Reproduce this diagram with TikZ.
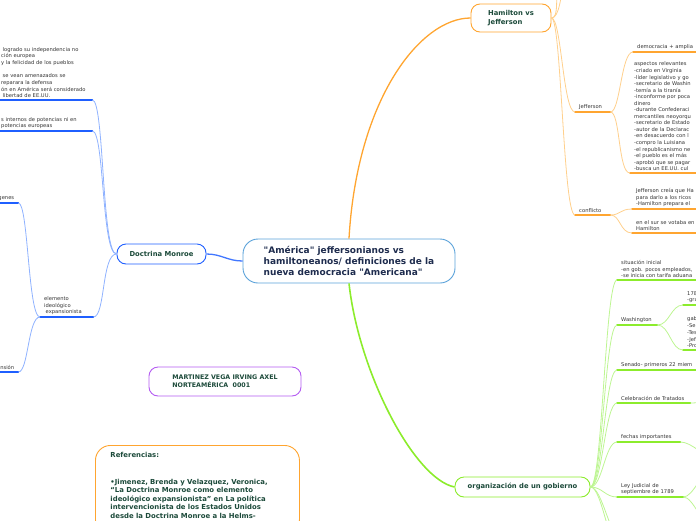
\documentclass[tikz,border=0pt]{standalone}
\usepackage{fontspec}
\setmainfont{DejaVu Sans}[Ligatures=TeXOff]
\usepackage{tikz}
\usetikzlibrary{positioning}
\hyphenpenalty=10000
\exhyphenpenalty=10000
\definecolor{mmblue}{HTML}{1F5FFF}
\definecolor{mmbluel}{HTML}{8FB2FF}
\definecolor{mmorange}{HTML}{FFA530}
\definecolor{mmorangel}{HTML}{FFD08C}
\definecolor{mmgreen}{HTML}{8CEC2C}
\definecolor{mmgreenl}{HTML}{BDF592}
\definecolor{mmpurple}{HTML}{B45CF2}
\definecolor{mmcentre}{HTML}{5AA2DA}
\definecolor{mmtext}{HTML}{1C4A3A}
\definecolor{mmnavy}{HTML}{1E2C4E}
\tikzset{
  topic/.style={draw,line width=0.9pt,fill=white,rounded corners=9pt,
    align=left,inner sep=0pt,text=mmtext,
    font=\bfseries\fontsize{6.8}{9}\selectfont},
  centretopic/.style={topic,draw=mmcentre,rounded corners=15pt,text=mmnavy,
    font=\bfseries\fontsize{9}{11}\selectfont},
  refbox/.style={draw=mmorange,line width=0.9pt,rounded corners=15pt,
    anchor=north west,align=left,inner xsep=15pt,inner ysep=7pt,
    text depth=70pt,text=mmtext,font=\bfseries\fontsize{6.9}{8.4}\selectfont},
  leaf/.style={anchor=south west,align=left,inner xsep=4pt,inner ysep=2pt,
    text=black!80,font=\fontsize{5.2}{6.7}\selectfont},
  uline/.style={line width=1.6pt,line cap=round},
  twig/.style={line width=0.8pt},
  trunk/.style={line width=1.3pt},
}

\begin{document}
\begin{tikzpicture}[x=1pt,y=-1pt]
  \useasboundingbox (0,0) rectangle (696,520);

  % main topics
  \node[centretopic,minimum width=212,minimum height=44] (ctr) at (349,261)
    {"América" jeffersonianos vs\\hamiltoneanos/ definiciones de la\\nueva democracia "Americana"};
  \node[topic,draw=mmblue,minimum width=89,minimum height=20] (dm) at (161.5,254)
    {Doctrina Monroe};
  \node[topic,draw=mmorange,minimum width=80,minimum height=28] (hj) at (511,18)
    {Hamilton vs\\Jefferson};
  \node[topic,draw=mmgreen,minimum width=135,minimum height=20] (og) at (522.5,487)
    {organización de un gobierno};
  \node[topic,draw=mmpurple,minimum width=152,minimum height=29,
    font=\bfseries\fontsize{6.3}{8}\selectfont] (author) at (225,381.5)
    {MARTINEZ VEGA IRVING AXEL\\NORTEAMÉRICA~~0001};
  \node[refbox,text width=174] (refs) at (95,445)
    {Referencias:\\[18.4pt]•Jimenez, Brenda y Velazquez, Veronica,\\“La Doctrina Monroe como elemento\\ideológico expansionista” en La política\\intervencionista de los Estados Unidos\\desde la Doctrina Monroe a la Helms-};

  \draw[trunk,mmblue!85] (dm.east) .. controls +(15,0) and +(-15,0) .. (ctr.west);
  \draw[trunk,mmorange] (ctr.north) .. controls +(8,-140) and +(-50,0) .. (hj.west);
  \draw[trunk,line width=1.6pt,mmgreen] (ctr.south) .. controls +(10,90) and +(-40,-8) .. (og.west);

  % Doctrina Monroe
  \node[leaf,text width=87] (dm1) at (-3,100)
    {\hspace*{1.5pt}logrado su independencia no\\ción europea\\y la felicidad de los pueblos\\[6.5pt]\hspace*{1.5pt}se vean amenazados se\\reparara la defensa\\ón en América será considerado\\\hspace*{1.5pt}libertad de EE.UU.};
  \node[leaf,text width=87] (dm2) at (-3,131)
    {s internos de potencias ni en\\potencias europeas};
  \node[leaf,text width=45] (dm3) at (40,317)
    {elemento\\ideológico\\\hspace*{1.5pt}expansionista};
  \node[leaf,text width=18,align=right] (dm3a) at (-8,203) {genes};
  \node[leaf,text width=18,align=right] (dm3b) at (-8,372) {nsión};
  \foreach \n in {dm1,dm2,dm3,dm3a,dm3b}
    \draw[uline,mmblue] (\n.south west) -- (\n.south east);
  \foreach \n in {dm1,dm2,dm3}
    \draw[twig,mmbluel] (dm.west) .. controls +(-15,0) and +(12,0) .. (\n.south east);
  \foreach \n in {dm3a,dm3b}
    \draw[twig,mmbluel] (dm3.south west) .. controls +(-12,0) and +(10,0) .. (\n.south east);

  % Hamilton vs Jefferson
  \node[leaf,text width=27] (jef) at (575,112) {Jefferson};
  \node[leaf,text width=89] (jef1) at (633,52) {democracia + amplia};
  \node[leaf,text width=92,font=\fontsize{5.2}{6.55}\selectfont] (jef2) at (630,173)
    {aspectos relevantes\\-criado en Virginia\\-líder legislativo y go\\-secretario de Washin\\-temía a la tiranía\\-inconforme por poca\\dinero\\-durante Confederaci\\mercantiles neoyorqu\\-secretario de Estado\\-autor de la Declarac\\-en desacuerdo con l\\-compro la Luisiana\\-el republicanismo ne\\-el pueblo es el más\\-aprobó que se pagar\\-busca un EE.UU. cul};
  \node[leaf,text width=27] (con) at (575,215) {conflicto};
  \node[leaf,text width=90] (con1) at (632,209)
    {Jefferson creía que Ha\\para darlo a los ricos\\-Hamilton prepara el};
  \node[leaf,text width=90] (con2) at (632,233)
    {en el sur se votaba en\\Hamilton};
  \coordinate (hjup1) at (558,-20);
  \coordinate (hjup2) at (564,-20);
  \foreach \n in {jef,jef1,jef2,con,con1,con2}
    \draw[uline,mmorange] (\n.south west) -- (\n.south east);
  \foreach \n in {hjup1,hjup2}
    \draw[twig,mmorangel] (hj.east) .. controls +(8,0) and +(-3,15) .. (\n);
  \foreach \n in {jef,con}
    \draw[twig,mmorangel] (hj.east) .. controls +(10,0) and +(-12,0) .. (\n.south west);
  \foreach \n in {jef1,jef2}
    \draw[twig,mmorangel] (jef.south east) .. controls +(10,0) and +(-12,0) .. (\n.south west);
  \foreach \n in {con1,con2}
    \draw[twig,mmorangel] (con.south east) .. controls +(10,0) and +(-12,0) .. (\n.south west);

  % organizacion de un gobierno
  \node[leaf,text width=105] (og1) at (617,280)
    {situación inicial\\-en gob. pocos empleados,\\-se inicia con tarifa aduana};
  \node[leaf,text width=32] (og2) at (617,325) {Washington};
  \node[leaf,text width=40] (og2a) at (683,305) {178\\-gra};
  \node[leaf,text width=40] (og2b) at (683,350) {gab\\-Se\\-Tes\\-Jef\\-Pro};
  \node[leaf,text width=105] (og3) at (617,370) {Senado- primeros 22 miem};
  \node[leaf,text width=65] (og4) at (617,403) {Celebración de Tratados};
  \node[leaf,text width=55] (og5) at (617,442) {fechas importantes};
  \node[leaf,text width=58] (og6) at (617,497) {Ley Judicial de\\septiembre de 1789};
  \coordinate (og4x) at (716,400);
  \coordinate (og5x) at (716,458);
  \coordinate (og6x) at (712,470);
  \coordinate (og6y) at (712,526);
  \coordinate (ogd1) at (622,540);
  \coordinate (ogd2) at (622,556);
  \foreach \n in {og1,og2,og2a,og2b,og3,og4,og5,og6}
    \draw[uline,mmgreen] (\n.south west) -- (\n.south east);
  \foreach \n in {og1,og2,og3,og4,og5,og6}
    \draw[twig,mmgreenl] (og.east) .. controls +(12,0) and +(-12,0) .. (\n.south west);
  \foreach \n in {ogd1,ogd2}
    \draw[twig,mmgreenl] (og.east) .. controls +(12,0) and +(-12,0) .. (\n);
  \foreach \n in {og2a,og2b}
    \draw[twig,mmgreenl] (og2.south east) .. controls +(12,0) and +(-12,0) .. (\n.south west);
  \draw[twig,mmgreenl] (og4.south east) .. controls +(12,0) and +(-12,0) .. (og4x);
  \draw[twig,mmgreenl] (og5.south east) .. controls +(12,0) and +(-12,0) .. (og5x);
  \foreach \n in {og6x,og6y}
    \draw[twig,mmgreenl] (og6.south east) .. controls +(10,0) and +(-10,0) .. (\n);
\end{tikzpicture}
\end{document}
